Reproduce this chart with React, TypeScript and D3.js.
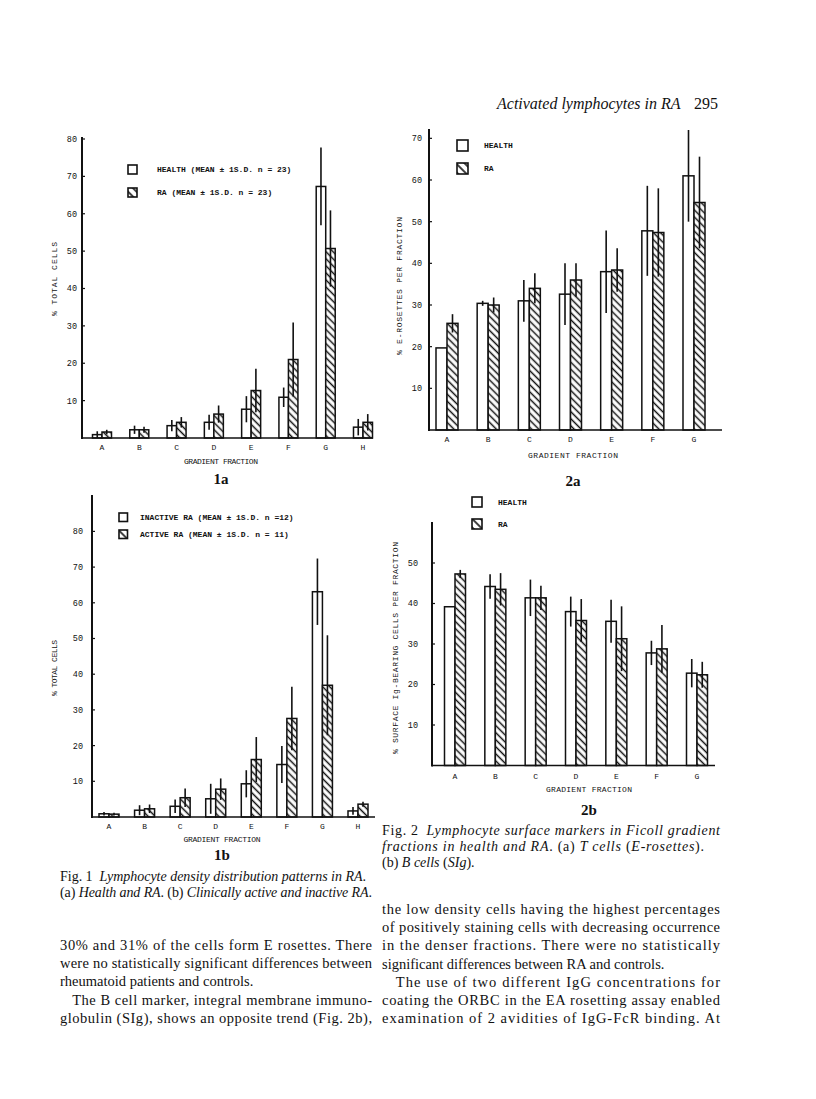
import React from "react";
import * as d3 from "d3";

// ---------- DATA ----------
const cats8 = ["A", "B", "C", "D", "E", "F", "G", "H"];
const cats7 = ["A", "B", "C", "D", "E", "F", "G"];

// Fig 1a: % total cells, health vs RA (mean, SD)
const health1a = [0.9, 2.2, 3.3, 4.2, 7.7, 10.9, 67.3, 2.9];
const health1aSD = [0.9, 1.1, 1.5, 2.0, 3.5, 2.6, 10.4, 2.2];
const ra1a = [1.6, 2.2, 4.2, 6.4, 12.7, 21.0, 50.7, 4.2];
const ra1aSD = [0.6, 0.8, 1.4, 2.3, 5.8, 9.9, 10.2, 2.2];

// Fig 1b: % total cells, inactive vs active RA
const inactive1b = [0.9, 1.9, 3.0, 5.1, 9.3, 14.7, 63.1, 1.7];
const inactive1bSD = [0.5, 1.4, 1.9, 4.2, 3.8, 5.2, 9.3, 1.1];
const active1b = [0.8, 2.3, 5.4, 7.8, 16.1, 27.6, 36.9, 3.6];
const active1bSD = [0.4, 1.2, 2.6, 3.0, 6.3, 8.9, 14.0, 0.7];

// Fig 2a: % E-rosettes per fraction
const health2a = [19.7, 30.4, 31.0, 32.6, 38.0, 47.8, 61.0];
const health2aSD = [0, 0.6, 5.0, 7.4, 9.9, 10.8, 11.0];
const ra2a = [25.6, 30.0, 34.0, 36.0, 38.4, 47.4, 54.6];
const ra2aSD = [2.2, 1.8, 3.6, 4.0, 5.2, 10.6, 11.0];

// Fig 2b: % surface Ig-bearing cells per fraction
const health2b = [39.2, 44.2, 41.4, 38.0, 35.6, 27.8, 22.8];
const health2bSD = [0, 3.0, 4.5, 3.7, 5.3, 3.0, 3.5];
const ra2b = [47.3, 43.5, 41.4, 35.8, 31.3, 28.8, 22.4];
const ra2bSD = [1.0, 4.0, 3.0, 5.3, 8.0, 5.9, 3.2];

const ticks1a = [10, 20, 30, 40, 50, 60, 70, 80];
const ticks1b = [10, 20, 30, 40, 50, 60, 70, 80];
const ticks2a = [10, 20, 30, 40, 50, 60, 70];
const ticks2b = [10, 20, 30, 40, 50];

const legend1a = ["HEALTH (MEAN \u00b1 1S.D. n = 23)", "RA (MEAN \u00b1 1S.D. n = 23)"];
const legend1b = ["INACTIVE RA (MEAN \u00b1 1S.D. n =12)", "ACTIVE RA (MEAN \u00b1 1S.D. n = 11)"];
const legend2 = ["HEALTH", "RA"];

const leftText = [
  "30% and 31% of the cells form E rosettes. There",
  "were no statistically significant differences between",
  "rheumatoid patients and controls.",
  "   The B cell marker, integral membrane immuno-",
  "globulin (SIg), shows an opposite trend (Fig. 2b),",
];
const rightText = [
  "the low density cells having the highest percentages",
  "of positively staining cells with decreasing occurrence",
  "in the denser fractions. There were no statistically",
  "significant differences between RA and controls.",
  "   The use of two different IgG concentrations for",
  "coating the ORBC in the EA rosetting assay enabled",
  "examination of 2 avidities of IgG-FcR binding. At",
];

const MONO = "'Liberation Mono', 'DejaVu Sans Mono', monospace";
const SERIF = "'Liberation Serif', 'DejaVu Serif', serif";
const INK = "#111";

type ChartProps = {
  cats: string[];
  s1: number[];
  s1sd: number[];
  s2: number[];
  s2sd: number[];
  yMax: number;
  ticks: number[];
  axisX: number;
  axisTop: number;
  base: number;
  top: number;
  xEnd: number;
  xFirst: number;
  xLast: number;
  barW: number;
  tickLabelX: number;
  catY: number;
  title: string;
  titleX: number;
  titleY: number;
  titleLen: number;
  gfY: number;
  gfX: number;
  gfLen: number;
  figLabel: string;
  figY: number;
  legend: string[];
  legX: number;
  legY: number[];
  legSize: number;
  legTextX: number;
};

function Chart(p: ChartProps) {
  const y = d3.scaleLinear().domain([0, p.yMax]).range([p.base, p.top]);
  const x = d3.scalePoint<string>().domain(p.cats).range([p.xFirst, p.xLast]);
  return (
    <g>
      {p.cats.map((c, i) => {
        const cx = x(c)!;
        const v1 = p.s1[i];
        const v2 = p.s2[i];
        return (
          <g key={c}>
            <rect x={cx - p.barW} y={y(v1)} width={p.barW} height={p.base - y(v1)} fill="#fff" stroke={INK} strokeWidth={1.5} />
            <rect x={cx} y={y(v2)} width={p.barW} height={p.base - y(v2)} fill="url(#hatch)" stroke={INK} strokeWidth={1.5} />
          </g>
        );
      })}
      {p.cats.map((c, i) => {
        const cx = x(c)!;
        const out = [];
        if (p.s1sd[i] > 0)
          out.push(
            <line key={"e1" + c} x1={cx - p.barW / 2} x2={cx - p.barW / 2} y1={y(p.s1[i] + p.s1sd[i])} y2={y(Math.max(0, p.s1[i] - p.s1sd[i]))} stroke={INK} strokeWidth={1.6} />
          );
        if (p.s2sd[i] > 0)
          out.push(
            <line key={"e2" + c} x1={cx + p.barW / 2} x2={cx + p.barW / 2} y1={y(p.s2[i] + p.s2sd[i])} y2={y(Math.max(0, p.s2[i] - p.s2sd[i]))} stroke={INK} strokeWidth={1.6} />
          );
        return out;
      })}
      <line x1={p.axisX} x2={p.axisX} y1={p.axisTop} y2={p.base + 1} stroke={INK} strokeWidth={2} />
      <line x1={p.axisX} x2={p.xEnd} y1={p.base} y2={p.base} stroke={INK} strokeWidth={1.6} />
      {p.ticks.map((t) => (
        <g key={t}>
          <line x1={p.axisX} x2={p.axisX + 3} y1={y(t)} y2={y(t)} stroke={INK} strokeWidth={1.2} />
          <text x={p.tickLabelX} y={y(t)} dy="0.35em" textAnchor="end" fontFamily={MONO} fontSize={8.5} fill={INK}>
            {t}
          </text>
        </g>
      ))}
      {p.cats.map((c) => (
        <text key={"l" + c} x={x(c)!} y={p.catY} textAnchor="middle" fontFamily={MONO} fontSize={8} fill={INK}>
          {c}
        </text>
      ))}
      <text
        transform={`translate(${p.titleX},${p.titleY}) rotate(-90)`}
        x={-p.titleLen / 2}
        fontFamily={MONO}
        fontSize={8}
        fill={INK}
        textLength={p.titleLen}
        lengthAdjust="spacing"
      >
        {p.title}
      </text>
      <text x={p.gfX - p.gfLen / 2} y={p.gfY} fontFamily={MONO} fontSize={8} fill={INK} textLength={p.gfLen} lengthAdjust="spacing">
        GRADIENT FRACTION
      </text>
      <text x={p.gfX} y={p.figY} textAnchor="middle" fontFamily={SERIF} fontSize={15} fontWeight="bold" fill={INK}>
        {p.figLabel}
      </text>
      {p.legend.map((l, i) => (
        <g key={l}>
          <rect
            x={p.legX}
            y={p.legY[i]}
            width={p.legSize}
            height={p.legSize}
            fill={i === 0 ? "#fff" : "url(#hatchL)"}
            stroke={INK}
            strokeWidth={1.6}
          />
          <text x={p.legTextX} y={p.legY[i] + p.legSize / 2} dy="0.35em" fontFamily={MONO} fontSize={8} fontWeight="bold" fill={INK}>
            {l}
          </text>
        </g>
      ))}
    </g>
  );
}

function Justified({ lines, x, y0, width, lastIdx }: { lines: string[]; x: number; y0: number; width: number; lastIdx: number[] }) {
  return (
    <g>
      {lines.map((l, i) => {
        const just = !lastIdx.includes(i);
        return (
          <text
            key={i}
            x={x}
            y={y0 + i * 18.2}
            fontFamily={SERIF}
            fontSize={14.5}
            fill={INK}
            style={{ whiteSpace: "pre" }}
            {...(just ? { textLength: width, lengthAdjust: "spacing" } : {})}
          >
            {l}
          </text>
        );
      })}
    </g>
  );
}

export default function App() {
  return (
    <svg width={816} height={1099} style={{ position: "absolute", left: 0, top: 0, background: "#fff" }}>
      <defs>
        <pattern id="hatch" patternUnits="userSpaceOnUse" width={5} height={5} patternTransform="rotate(45)">
          <rect width={5} height={5} fill="#fff" />
          <line x1={0} y1={2.5} x2={5} y2={2.5} stroke={INK} strokeWidth={1.5} />
        </pattern>
        <pattern id="hatchL" patternUnits="userSpaceOnUse" width={6} height={6} patternTransform="rotate(45)">
          <rect width={6} height={6} fill="#fff" />
          <line x1={0} y1={3} x2={6} y2={3} stroke={INK} strokeWidth={1.6} />
        </pattern>
      </defs>
      <rect width={816} height={1099} fill="#fff" />

      <text x={497} y={109} fontFamily={SERIF} fontSize={16} fontStyle="italic" fill={INK}>
        Activated lymphocytes in RA
      </text>
      <text x={718} y={109} textAnchor="end" fontFamily={SERIF} fontSize={16} fill={INK}>
        295
      </text>

      <Chart
        cats={cats8}
        s1={health1a}
        s1sd={health1aSD}
        s2={ra1a}
        s2sd={ra1aSD}
        yMax={80}
        ticks={ticks1a}
        axisX={82}
        axisTop={137}
        base={438}
        top={139}
        xEnd={373}
        xFirst={102}
        xLast={363}
        barW={9.5}
        tickLabelX={77}
        catY={450}
        title="% TOTAL CELLS"
        titleX={57}
        titleY={279}
        titleLen={74}
        gfY={464}
        gfX={221}
        gfLen={74}
        figLabel="1a"
        figY={484}
        legend={legend1a}
        legX={128}
        legY={[165, 188]}
        legSize={9}
        legTextX={157}
      />

      <Chart
        cats={cats7}
        s1={health2a}
        s1sd={health2aSD}
        s2={ra2a}
        s2sd={ra2aSD}
        yMax={72}
        ticks={ticks2a}
        axisX={429}
        axisTop={129}
        base={430}
        top={130}
        xEnd={722}
        xFirst={447}
        xLast={694}
        barW={11}
        tickLabelX={422}
        catY={442}
        title="% E-ROSETTES PER FRACTION"
        titleX={402}
        titleY={286}
        titleLen={138}
        gfY={458}
        gfX={573}
        gfLen={90}
        figLabel="2a"
        figY={486}
        legend={legend2}
        legX={457}
        legY={[140, 163]}
        legSize={11}
        legTextX={484}
      />

      <Chart
        cats={cats8}
        s1={inactive1b}
        s1sd={inactive1bSD}
        s2={active1b}
        s2sd={active1bSD}
        yMax={90}
        ticks={ticks1b}
        axisX={92}
        axisTop={495}
        base={817}
        top={495.7}
        xEnd={375}
        xFirst={109}
        xLast={358}
        barW={10}
        tickLabelX={83}
        catY={829}
        title="% TOTAL CELLS"
        titleX={57}
        titleY={668}
        titleLen={56}
        gfY={842}
        gfX={222}
        gfLen={77}
        figLabel="1b"
        figY={860}
        legend={legend1b}
        legX={119}
        legY={[513, 530]}
        legSize={8.5}
        legTextX={140}
      />

      <Chart
        cats={cats7}
        s1={health2b}
        s1sd={health2bSD}
        s2={ra2b}
        s2sd={ra2bSD}
        yMax={60}
        ticks={ticks2b}
        axisX={432}
        axisTop={522}
        base={765.5}
        top={522.5}
        xEnd={715}
        xFirst={455}
        xLast={697}
        barW={10.5}
        tickLabelX={418}
        catY={779}
        title="% SURFACE Ig-BEARING CELLS PER FRACTION"
        titleX={398}
        titleY={648}
        titleLen={212}
        gfY={792}
        gfX={589}
        gfLen={86}
        figLabel="2b"
        figY={815}
        legend={legend2}
        legX={472}
        legY={[497, 519]}
        legSize={10}
        legTextX={498}
      />

      {/* Fig 2 caption */}
      <text x={382} y={835} fontFamily={SERIF} fontSize={14} fill={INK} textLength={338} lengthAdjust="spacing">
        <tspan>Fig. 2{"\u2002"}</tspan>
        <tspan fontStyle="italic">Lymphocyte surface markers in Ficoll gradient</tspan>
      </text>
      <text x={382} y={851} fontFamily={SERIF} fontSize={14} fill={INK} textLength={322} lengthAdjust="spacing">
        <tspan fontStyle="italic">fractions in health and RA</tspan>
        <tspan>. (a) </tspan>
        <tspan fontStyle="italic">T cells</tspan>
        <tspan> (</tspan>
        <tspan fontStyle="italic">E-rosettes</tspan>
        <tspan>).</tspan>
      </text>
      <text x={382} y={867} fontFamily={SERIF} fontSize={14} fill={INK}>
        <tspan>(b) </tspan>
        <tspan fontStyle="italic">B cells</tspan>
        <tspan> (</tspan>
        <tspan fontStyle="italic">SIg</tspan>
        <tspan>).</tspan>
      </text>

      {/* Fig 1 caption */}
      <text x={60} y={881} fontFamily={SERIF} fontSize={14} fill={INK} textLength={306} lengthAdjust="spacing">
        <tspan>Fig. 1{"\u2002"}</tspan>
        <tspan fontStyle="italic">Lymphocyte density distribution patterns in RA</tspan>
        <tspan>.</tspan>
      </text>
      <text x={60} y={897} fontFamily={SERIF} fontSize={14} fill={INK} textLength={312} lengthAdjust="spacing">
        <tspan>(a) </tspan>
        <tspan fontStyle="italic">Health and RA</tspan>
        <tspan>. (b) </tspan>
        <tspan fontStyle="italic">Clinically active and inactive RA</tspan>
        <tspan>.</tspan>
      </text>

      <Justified lines={leftText} x={60} y0={950} width={312} lastIdx={[2]} />
      <Justified lines={rightText} x={382} y0={914} width={338} lastIdx={[3]} />
    </svg>
  );
}
